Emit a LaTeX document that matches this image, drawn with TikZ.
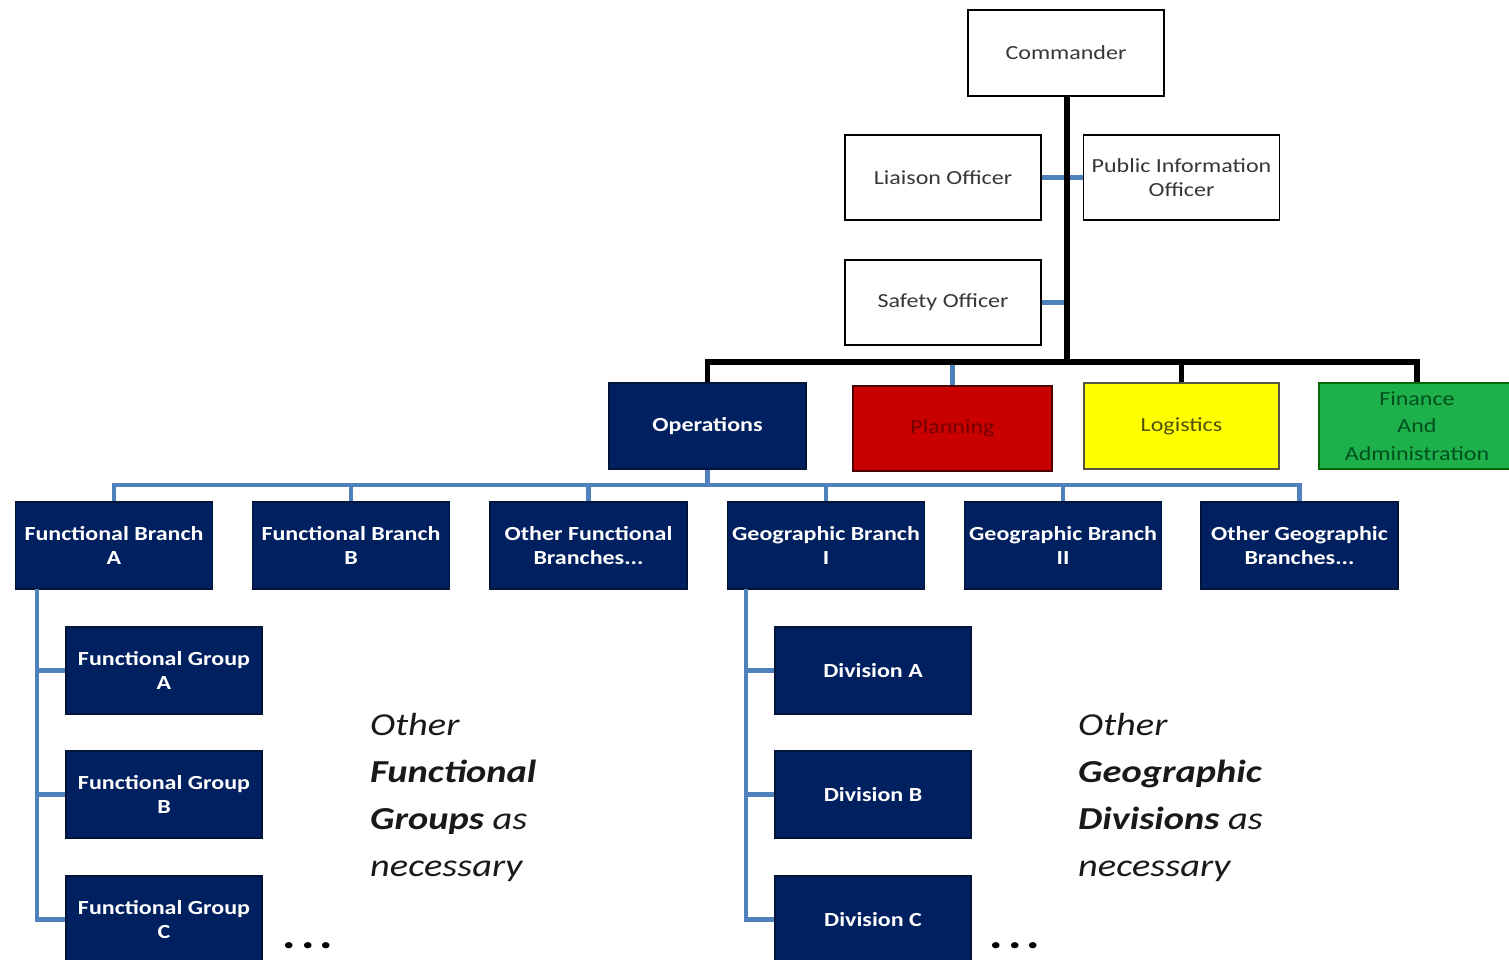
\documentclass[tikz,border=0pt]{standalone}
\usepackage{fontspec}
\setmainfont{Carlito}[FakeStretch=1.2]
\definecolor{navy}{RGB}{0,32,96}
\definecolor{navyedge}{RGB}{0,20,60}
\definecolor{linkblue}{RGB}{79,129,189}
\definecolor{boxtext}{RGB}{55,55,55}
\definecolor{planfill}{RGB}{200,0,0}
\definecolor{plantext}{RGB}{115,0,0}
\definecolor{logfill}{RGB}{255,255,0}
\definecolor{logtext}{RGB}{80,80,10}
\definecolor{finfill}{RGB}{30,176,74}
\definecolor{fintext}{RGB}{0,80,30}
\definecolor{notetext}{RGB}{25,25,25}
\begin{document}
\begin{tikzpicture}[x=1pt,y=-1pt,
  boxbase/.style={rectangle, inner sep=0pt, align=center,
    minimum width=196pt, minimum height=86pt, line width=1.8pt},
  staffbox/.style={boxbase, draw=black, fill=white, text=boxtext,
    font=\fontsize{20}{24}\selectfont},
  unitbox/.style={boxbase, draw=navyedge, fill=navy, text=white,
    font=\fontsize{20}{24}\selectfont\bfseries},
  sectionbox/.style={boxbase, font=\fontsize{20}{24}\selectfont},
  blackline/.style={draw=black, line width=5.5pt, line join=miter},
  blueline/.style={draw=linkblue, line width=4.5pt, line join=miter},
  note/.style={anchor=north west, inner sep=0pt, align=left, text=notetext,
    font=\fontsize{32}{47}\selectfont\itshape},
  dots/.style={inner sep=0pt, text=black, font=\fontsize{42}{42}\selectfont\bfseries}
]
\useasboundingbox (0,0) rectangle (1509,960);
\clip (0,0) rectangle (1509,960);

% command staff
\node[staffbox] (cmd) at (1066,53) {Commander};
\node[staffbox, minimum height=85pt] (lia) at (943,177.5) {Liaison Officer};
\node[staffbox, minimum height=85pt] (pio) at (1181.5,177.5) {Public Information\\Officer};
\node[staffbox, minimum height=85pt] (saf) at (943,302.5) {Safety Officer};
\coordinate (j1) at (1067,362);

% general staff sections
\node[unitbox, minimum width=197pt] (ops) at (707.5,426) {Operations};
\node[sectionbox, minimum width=199pt, minimum height=85pt, draw=black!70!red, fill=planfill, text=plantext] (pla) at (952.5,428.5) {Planning};
\node[sectionbox, minimum width=195pt, draw=black!75!yellow, fill=logfill, text=logtext] (logi) at (1181.5,426) {Logistics};
\node[sectionbox, draw=black!60!green, fill=finfill, text=fintext, font=\fontsize{20}{27.5}\selectfont] (fin) at (1417,426) {Finance\\And\\Administration};
\coordinate (j2) at (707.5,485);

% branches
\node[unitbox, minimum width=197pt, minimum height=87pt] (fba) at (114,545.5) {Functional Branch\\A};
\node[unitbox, minimum width=197pt, minimum height=87pt] (fbb) at (351,545.5) {Functional Branch\\B};
\node[unitbox, minimum width=197pt, minimum height=87pt] (ofb) at (588.5,545.5) {Other Functional\\Branches...};
\node[unitbox, minimum width=197pt, minimum height=87pt] (gb1) at (826,545.5) {Geographic Branch\\I};
\node[unitbox, minimum width=197pt, minimum height=87pt] (gb2) at (1063,545.5) {Geographic Branch\\II};
\node[unitbox, minimum width=197pt, minimum height=87pt] (ogb) at (1299.5,545.5) {Other Geographic\\Branches...};

% functional groups
\node[unitbox, minimum height=87pt] (fga) at (164,670.5) {Functional Group\\A};
\node[unitbox, minimum height=87pt] (fgb) at (164,794.5) {Functional Group\\B};
\node[unitbox, minimum height=87pt] (fgc) at (164,919.5) {Functional Group\\C};
\coordinate (fa) at (37,589);

% geographic divisions
\node[unitbox, minimum height=87pt] (dva) at (873,670.5) {Division A};
\node[unitbox, minimum height=87pt] (dvb) at (873,794.5) {Division B};
\node[unitbox, minimum height=87pt] (dvc) at (873,919.5) {Division C};
\coordinate (ga) at (746,589);

% notes
\node[note] (nf) at (370,713) {Other\\\textbf{Functional}\\\textbf{Groups} as\\necessary};
\node[note] (ng) at (1078,713) {Other\\\textbf{Geographic}\\\textbf{Divisions} as\\necessary};
\node[dots] (df) at (308,946) {.\hspace{5pt}.\hspace{5pt}.};
\node[dots] (dg) at (1015,946) {.\hspace{5pt}.\hspace{5pt}.};

% staff links
\draw[blueline] (lia.east) -- (lia.east -| j1);
\draw[blueline] (pio.west) -- (pio.west -| j1);
\draw[blueline] (saf.east) -- (saf.east -| j1);
\draw[blueline] (pla.north) -- (pla.north |- j1);
\draw[blackline] (cmd.south -| j1) -- (j1);
\draw[blackline] (ops.north) |- (j1);
\draw[blackline] (fin.north) |- (j1);
\draw[blackline] (logi.north) -- (logi.north |- j1);

% operations links
\draw[blueline] (ops.south) -- (j2);
\foreach \b in {fba,fbb,ofb,gb1,gb2,ogb}
  \draw[blueline] (\b.north) |- (j2);
\foreach \g in {fga,fgb,fgc}
  \draw[blueline] (fa) |- (\g.west);
\foreach \d in {dva,dvb,dvc}
  \draw[blueline] (ga) |- (\d.west);
\end{tikzpicture}
\end{document}
